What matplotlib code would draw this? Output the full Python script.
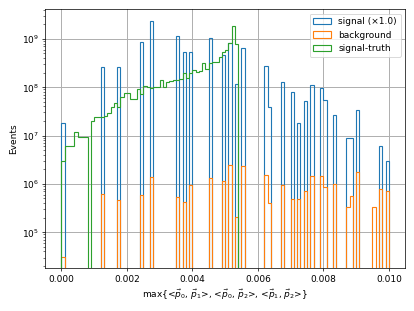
import numpy as np
import matplotlib
matplotlib.use('Agg')
import matplotlib.pyplot as plt

# 100 bins over [0, 0.01]; sparse bins -> counts
nbins = 100
sig_bins = [0, 12, 17, 24, 27, 35, 37, 39, 45, 49, 51, 53, 55, 62, 63, 67,
            70, 72, 74, 76, 79, 80, 83, 87, 88, 90, 97, 99]
sig_counts = [1.8e7, 2.59e8, 2.67e8, 8.5e8, 2.36e9, 1.17e9, 5.35e8, 5.3e8,
              1.03e9, 4.57e8, 8.3e8, 1.15e8, 6.4e8, 2.76e8, 3.85e7, 1.31e8,
              8.1e7, 1.82e7, 5.1e7, 1.11e8, 9.5e7, 5.5e7, 2.67e7, 9.0e6,
              9.0e6, 3.3e7, 6.0e6, 3.0e6]
bkg_bins = [0, 12, 17, 24, 27, 35, 37, 39, 45, 49, 51, 53, 55, 62, 63, 67,
            70, 72, 74, 76, 79, 80, 83, 87, 88, 90, 95, 97, 99]
bkg_counts = [3.07e4, 6.1e5, 4.57e5, 5.8e5, 1.37e6, 5.4e5, 4.2e5, 9.4e5,
              1.31e6, 1.13e6, 2.43e6, 2.1e5, 2.31e6, 1.53e6, 3.96e5, 9.5e5,
              4.8e5, 4.8e5, 7.2e5, 1.46e6, 1.46e6, 8.5e5, 1.0e6, 3.3e5,
              5.7e5, 1.76e6, 3.3e5, 7.7e5, 7.0e5]
# signal-truth, bins 0..53 (rest empty)
truth_counts = [3.0e6, 6.1e6, 6.1e6, 6.1e6, 1.2e7, 9.2e6, 9.2e6, 9.2e6, 0,
                2.04e7, 2.4e7, 2.4e7, 2.4e7, 2.57e7, 2.99e7, 3.85e7, 4.79e7,
                3.85e7, 6.17e7, 7.5e7, 7.5e7, 5.6e7, 5.6e7, 9.1e7, 7.2e7,
                1.07e8, 1.0e8, 9.8e7, 1.0e8, 1.0e8, 1.41e8, 1.02e8, 1.26e8,
                1.32e8, 1.38e8, 1.41e8, 1.48e8, 1.95e8, 1.55e8, 1.95e8,
                2.29e8, 2.09e8, 2.19e8, 3.16e8, 2.34e8, 3.16e8, 3.39e8,
                3.39e8, 4.27e8, 5.25e8, 5.89e8, 8.13e8, 1.8e9, 7.94e8]

edges = np.linspace(0, 0.01, nbins + 1)
centers = 0.5 * (edges[:-1] + edges[1:])
def dense(idx, vals):
    w = np.zeros(nbins); w[idx] = vals; return w
w_sig = dense(sig_bins, sig_counts)
w_bkg = dense(bkg_bins, bkg_counts)
w_tru = dense(list(range(len(truth_counts))), truth_counts)

fig, ax = plt.subplots(figsize=(6.4, 4.8), dpi=64.84)
ax.set_yscale('log')
lw = 1.25
ax.hist(centers, bins=edges, weights=w_sig, histtype='step', color='C0', lw=lw, label='signal (×1.0)')
ax.hist(centers, bins=edges, weights=w_bkg, histtype='step', color='C1', lw=lw, label='background')
ax.hist(centers, bins=edges, weights=w_tru, histtype='step', color='C2', lw=lw, label='signal-truth')
ax.set_xlim(-0.0005, 0.0105)
ax.set_ylim(10**4.253, 10**9.615)
ax.set_xlabel(r'max{<$\vec{p}_0$, $\vec{p}_1$>, <$\vec{p}_0$, $\vec{p}_2$>, <$\vec{p}_1$, $\vec{p}_2$>}')
ax.set_ylabel('Events')
ax.grid(True, lw=1.1)
ax.legend(loc='upper right')
fig.subplots_adjust(left=0.1085, right=0.9765, top=0.970, bottom=0.137)
fig.savefig('out.png')
